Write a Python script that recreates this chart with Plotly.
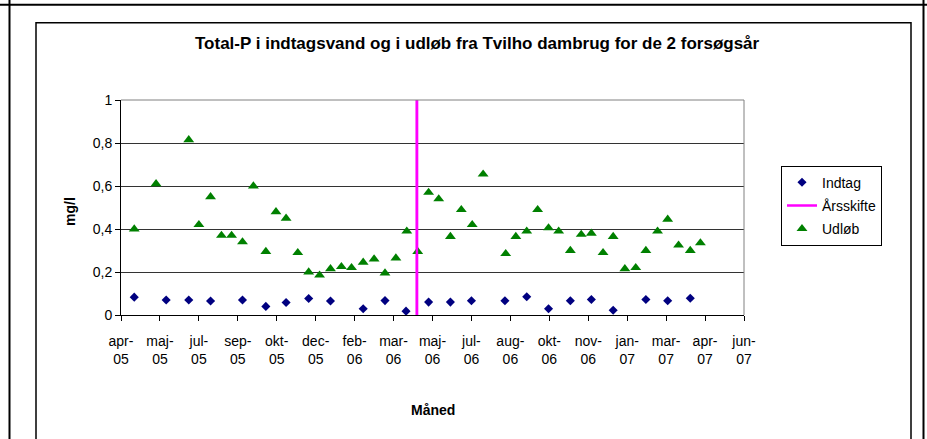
import plotly.graph_objects as go

# ---------------- data ----------------
udlob_dates = [
    "2005-04-24", "2005-05-22", "2005-07-03", "2005-07-16", "2005-07-31", "2005-08-14",
    "2005-08-27", "2005-09-10", "2005-09-24", "2005-10-10", "2005-10-23", "2005-11-05",
    "2005-11-20", "2005-12-04", "2005-12-18", "2006-01-01", "2006-01-15", "2006-01-28",
    "2006-02-12", "2006-02-26", "2006-03-12", "2006-03-26", "2006-04-09", "2006-04-23",
    "2006-05-07", "2006-05-20", "2006-06-04", "2006-06-18", "2006-07-02", "2006-07-16",
    "2006-08-14", "2006-08-27", "2006-09-10", "2006-09-24", "2006-10-08", "2006-10-21",
    "2006-11-05", "2006-11-19", "2006-12-02", "2006-12-17", "2006-12-30", "2007-01-14",
    "2007-01-28", "2007-02-10", "2007-02-25", "2007-03-10", "2007-03-24", "2007-04-08",
    "2007-04-21",
]
udlob_values = [
    0.40, 0.61, 0.815, 0.42, 0.55, 0.37,
    0.37, 0.34, 0.60, 0.295, 0.48, 0.45,
    0.29, 0.20, 0.185, 0.215, 0.225, 0.22,
    0.245, 0.26, 0.195, 0.265, 0.39, 0.295,
    0.57, 0.54, 0.365, 0.49, 0.42, 0.655,
    0.285, 0.365, 0.39, 0.49, 0.405, 0.39,
    0.30, 0.375, 0.38, 0.29, 0.365, 0.215,
    0.22, 0.30, 0.39, 0.445, 0.325, 0.30,
    0.335,
]

indtag_dates = [
    "2005-04-24", "2005-06-04", "2005-07-03", "2005-07-31", "2005-09-10", "2005-10-10",
    "2005-11-05", "2005-12-04", "2006-01-01", "2006-02-12", "2006-03-12", "2006-04-08",
    "2006-05-07", "2006-06-04", "2006-07-01", "2006-08-13", "2006-09-10", "2006-10-08",
    "2006-11-05", "2006-12-02", "2006-12-30", "2007-02-10", "2007-03-10", "2007-04-08",
]
indtag_values = [
    0.083, 0.070, 0.070, 0.065, 0.070, 0.040,
    0.058, 0.077, 0.065, 0.029, 0.067, 0.018,
    0.060, 0.060, 0.066, 0.066, 0.085, 0.029,
    0.066, 0.072, 0.022, 0.072, 0.066, 0.078,
]

arsskifte_date = "2006-04-22"
arsskifte_y = [0, 1.02]

x_tick_dates = [
    "2005-04-07", "2005-05-27", "2005-07-16", "2005-09-04", "2005-10-24", "2005-12-13",
    "2006-02-01", "2006-03-23", "2006-05-12", "2006-07-01", "2006-08-20", "2006-10-09",
    "2006-11-28", "2007-01-17", "2007-03-08", "2007-04-27", "2007-06-16",
]
x_tick_labels = [
    "apr-<br>05", "maj-<br>05", "jul-<br>05", "sep-<br>05", "okt-<br>05", "dec-<br>05",
    "feb-<br>06", "mar-<br>06", "maj-<br>06", "jul-<br>06", "aug-<br>06", "okt-<br>06",
    "nov-<br>06", "jan-<br>07", "mar-<br>07", "apr-<br>07", "jun-<br>07",
]
y_tick_values = [0, 0.2, 0.4, 0.6, 0.8, 1.0]
y_tick_labels = ["0", "0,2", "0,4", "0,6", "0,8", "1"]

title_text = "Total-P i indtagsvand og i udløb fra Tvilho dambrug for de 2 forsøgsår"
x_title = "Måned"
y_title = "mg/l"

FONT = "Arial, Liberation Sans, sans-serif"

# ---------------- figure ----------------
fig = go.Figure()

fig.add_trace(go.Scatter(
    x=indtag_dates, y=indtag_values, mode="markers", name="Indtag",
    legendgroup="a",
    marker=dict(symbol="diamond", size=7, color="#000080"),
    cliponaxis=False,
))
fig.add_trace(go.Scatter(
    x=[arsskifte_date, arsskifte_date], y=arsskifte_y, mode="lines", name="Årsskifte",
    legendgroup="b",
    line=dict(color="#FF00FF", width=2.5),
))
fig.add_trace(go.Scatter(
    x=udlob_dates, y=udlob_values, mode="markers", name="Udløb",
    legendgroup="c",
    marker=dict(symbol="triangle-up", size=9.5, color="#008000"),
    cliponaxis=False,
))

W, H = 927, 439
L, R, T, B = 121, 183, 100, 124
PW = W - L - R
PH = H - T - B


def px(xp):
    return (xp - L) / PW


def py(yp):
    return (H - B - yp) / PH


shapes = [
    dict(type="line", xref="x", yref="y", x0=arsskifte_date, x1=arsskifte_date,
         y0=arsskifte_y[0], y1=arsskifte_y[1], line=dict(color="#FF00FF", width=2.5), layer="above"),
    dict(type="line", xref="paper", yref="paper", x0=0, x1=1, y0=1, y1=1,
         line=dict(color="#808080", width=1), layer="above"),
    dict(type="line", xref="paper", yref="paper", x0=1, x1=1, y0=0, y1=1,
         line=dict(color="#808080", width=1), layer="above"),
    # outer frame
    dict(type="line", xref="paper", yref="paper", x0=px(0), x1=px(W), y0=py(4.7), y1=py(4.7),
         line=dict(color="black", width=2)),
    dict(type="line", xref="paper", yref="paper", x0=px(9.5), x1=px(9.5), y0=py(0), y1=py(H),
         line=dict(color="black", width=2)),
    dict(type="line", xref="paper", yref="paper", x0=px(923.5), x1=px(923.5), y0=py(0), y1=py(H),
         line=dict(color="black", width=2)),
    # inner chart box
    dict(type="rect", xref="paper", yref="paper", x0=px(36), x1=px(911), y0=py(H + 10), y1=py(22.7),
         line=dict(color="black", width=1.5)),
]

annotations = [
    dict(text="<b>" + title_text + "</b>", xref="paper", yref="paper",
         x=px(477), y=py(43), showarrow=False, font=dict(size=17, color="black", family=FONT),
         xanchor="center", yanchor="middle"),
    dict(text="<b>" + x_title + "</b>", xref="paper", yref="paper",
         x=px(432.5), y=py(410), showarrow=False, font=dict(size=14, color="black", family=FONT),
         xanchor="center", yanchor="middle"),
    dict(text="<b>" + y_title + "</b>", xref="paper", yref="paper",
         x=px(70), y=py(212), showarrow=False, textangle=-90,
         font=dict(size=14, color="black", family=FONT),
         xanchor="center", yanchor="middle"),
]

fig.update_layout(
    width=W, height=H,
    margin=dict(l=L, r=R, t=T, b=B, pad=0),
    paper_bgcolor="white", plot_bgcolor="white",
    font=dict(family=FONT, size=13, color="black"),
    showlegend=True,
    legend=dict(
        x=px(781), y=py(165.7), xanchor="left", yanchor="top",
        bordercolor="black", borderwidth=1, bgcolor="white",
        font=dict(size=14, family=FONT, color="black"),
        tracegroupgap=2, traceorder="grouped",
    ),
    shapes=shapes,
    annotations=annotations,
)

fig.update_xaxes(
    type="date",
    range=[x_tick_dates[0], x_tick_dates[-1]],
    tickmode="array", tickvals=x_tick_dates, ticktext=x_tick_labels,
    ticks="outside", ticklen=5, tickcolor="black", tickwidth=1,
    showline=True, linecolor="black", linewidth=1,
    showgrid=False, zeroline=False,
    tickfont=dict(size=14, family=FONT, color="black"),
    tickangle=0, ticklabelstandoff=8,
)
fig.update_yaxes(
    range=[0, 1],
    tickmode="array", tickvals=y_tick_values, ticktext=y_tick_labels,
    ticks="outside", ticklen=5, tickcolor="black", tickwidth=1,
    showline=True, linecolor="black", linewidth=1,
    showgrid=True, gridcolor="#333333", gridwidth=1,
    zeroline=False,
    tickfont=dict(size=14, family=FONT, color="black"),
)

fig.write_html(
    "out.html",
    config={"displayModeBar": False},
    post_script="document.body.style.margin='0';document.body.style.overflow='hidden';",
)
